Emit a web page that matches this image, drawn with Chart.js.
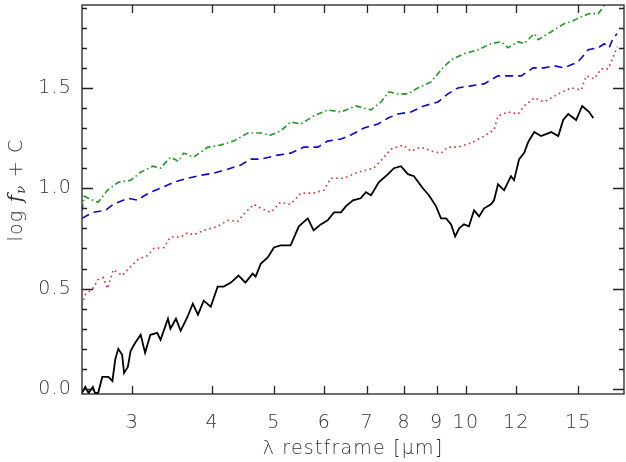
<!DOCTYPE html>
<html>
<head>
<meta charset="utf-8">
<script src="https://cdn.jsdelivr.net/npm/chart.js@4"></script>
<style>
  html, body { margin: 0; padding: 0; background: #fff; }
  #wrap { width: 626px; height: 462px; }
</style>
</head>
<body>
<div id="wrap"><canvas id="sed"></canvas></div>
<script>
// wavelength (rest frame, micron) / log f_nu + C
const blackX = [2.50, 2.53, 2.56, 2.60, 2.62, 2.65, 2.69, 2.72, 2.75, 2.79, 2.82, 2.85, 2.89, 2.91, 2.95, 2.98, 3.03, 3.09, 3.14, 3.20, 3.28, 3.32, 3.41, 3.44, 3.51, 3.57, 3.66, 3.73, 3.80, 3.88, 3.98, 4.08, 4.17, 4.28, 4.40, 4.51, 4.63, 4.68, 4.77, 4.89, 5.00, 5.12, 5.31, 5.47, 5.65, 5.77, 5.92, 6.07, 6.21, 6.37, 6.48, 6.65, 6.84, 6.97, 7.10, 7.30, 7.55, 7.71, 7.91, 8.11, 8.29, 8.56, 8.75, 8.98, 9.14, 9.31, 9.48, 9.62, 9.76, 9.93, 10.11, 10.30, 10.49, 10.68, 10.95, 11.07, 11.23, 11.48, 11.77, 11.90, 12.12, 12.34, 12.52, 12.80, 13.12, 13.61, 13.96, 14.21, 14.47, 14.89, 15.22, 15.61, 15.84];
const blackY = [-0.02, 0.01, -0.02, 0.01, -0.02, -0.02, 0.06, 0.06, 0.06, 0.04, 0.15, 0.20, 0.17, 0.08, 0.11, 0.19, 0.23, 0.27, 0.18, 0.27, 0.28, 0.245, 0.35, 0.30, 0.35, 0.29, 0.36, 0.425, 0.37, 0.44, 0.41, 0.51, 0.51, 0.53, 0.565, 0.53, 0.575, 0.56, 0.625, 0.655, 0.705, 0.715, 0.715, 0.81, 0.85, 0.79, 0.82, 0.84, 0.88, 0.88, 0.91, 0.94, 0.95, 0.98, 0.965, 1.03, 1.07, 1.10, 1.11, 1.07, 1.06, 1.00, 0.965, 0.91, 0.85, 0.85, 0.82, 0.76, 0.80, 0.82, 0.81, 0.89, 0.86, 0.90, 0.92, 0.94, 1.02, 0.99, 1.06, 1.04, 1.145, 1.175, 1.23, 1.28, 1.26, 1.28, 1.26, 1.34, 1.37, 1.34, 1.41, 1.38, 1.35];

const redX = [2.50, 2.53, 2.60, 2.65, 2.70, 2.74, 2.80, 2.89, 2.95, 3.06, 3.17, 3.24, 3.36, 3.44, 3.57, 3.66, 3.74, 3.88, 4.08, 4.23, 4.39, 4.48, 4.65, 4.77, 4.94, 5.12, 5.31, 5.51, 5.77, 5.99, 6.14, 6.44, 6.77, 7.17, 7.44, 7.63, 7.97, 8.20, 8.50, 8.82, 9.14, 9.37, 9.72, 10.19, 10.68, 11.07, 11.23, 11.65, 12.08, 12.34, 12.80, 13.27, 13.96, 14.63, 15.17, 15.44, 15.90, 16.30, 16.72, 17.03, 17.27];
const redY = [0.42, 0.47, 0.50, 0.545, 0.555, 0.50, 0.595, 0.565, 0.595, 0.645, 0.665, 0.70, 0.705, 0.757, 0.757, 0.778, 0.768, 0.79, 0.81, 0.84, 0.835, 0.87, 0.92, 0.90, 0.88, 0.93, 0.92, 0.976, 0.976, 0.99, 1.05, 1.05, 1.08, 1.10, 1.155, 1.195, 1.215, 1.185, 1.205, 1.185, 1.175, 1.205, 1.205, 1.225, 1.26, 1.29, 1.36, 1.38, 1.37, 1.41, 1.45, 1.43, 1.47, 1.50, 1.49, 1.56, 1.545, 1.595, 1.595, 1.655, 1.705];

const blueX = [2.50, 2.60, 2.72, 2.80, 2.85, 2.95, 3.06, 3.12, 3.20, 3.32, 3.48, 3.66, 3.84, 4.02, 4.23, 4.43, 4.60, 4.77, 5.07, 5.31, 5.57, 5.86, 6.07, 6.37, 6.60, 6.92, 7.28, 7.55, 7.82, 8.20, 8.59, 9.04, 9.37, 9.72, 10.19, 10.68, 11.23, 11.77, 12.21, 12.75, 13.27, 13.76, 14.26, 15.00, 15.55, 16.13, 16.48, 16.78, 17.03, 17.27];
const blueY = [0.85, 0.88, 0.89, 0.92, 0.93, 0.95, 0.94, 0.96, 0.98, 1.00, 1.03, 1.05, 1.065, 1.075, 1.095, 1.115, 1.145, 1.145, 1.165, 1.175, 1.205, 1.205, 1.235, 1.245, 1.265, 1.30, 1.32, 1.35, 1.37, 1.38, 1.41, 1.43, 1.47, 1.50, 1.51, 1.52, 1.56, 1.56, 1.56, 1.60, 1.60, 1.61, 1.60, 1.63, 1.69, 1.70, 1.72, 1.70, 1.75, 1.77];

const greenX = [2.50, 2.52, 2.60, 2.65, 2.74, 2.85, 2.98, 3.09, 3.23, 3.32, 3.44, 3.54, 3.61, 3.74, 3.94, 4.12, 4.32, 4.55, 4.77, 4.94, 5.12, 5.31, 5.51, 5.77, 6.07, 6.37, 6.72, 7.10, 7.36, 7.57, 7.82, 8.11, 8.41, 8.82, 9.14, 9.48, 9.93, 10.45, 10.95, 11.36, 11.65, 12.08, 12.34, 12.80, 12.98, 13.61, 14.26, 14.63, 15.06, 15.61, 16.13, 16.48, 16.70];
const greenY = [0.89, 0.96, 0.94, 0.93, 0.99, 1.03, 1.04, 1.08, 1.11, 1.10, 1.155, 1.135, 1.175, 1.155, 1.205, 1.215, 1.235, 1.275, 1.275, 1.265, 1.285, 1.33, 1.32, 1.36, 1.39, 1.38, 1.41, 1.39, 1.43, 1.48, 1.47, 1.47, 1.50, 1.53, 1.59, 1.64, 1.67, 1.69, 1.72, 1.73, 1.70, 1.73, 1.72, 1.77, 1.74, 1.78, 1.82, 1.83, 1.85, 1.87, 1.87, 1.91, 1.94];

const xTicks = [3, 4, 5, 6, 7, 8, 9, 10, 12, 15];
const yTicks = [0.0, 0.5, 1.0, 1.5];

const FONT = "'DejaVu Sans', sans-serif";
const INK = '#222';
const TXT = '#333';

function pts(xs, ys) {
  return xs.map((x, i) => ({ x: x, y: ys[i] }));
}

// wider letter spacing, like the plotting package's stroke font
const spacing = {
  id: 'spacing',
  beforeDraw(chart) { chart.ctx.letterSpacing = '1.2px'; }
};

// IDL-style box with inward ticks on all four sides, plus y title
const boxAxes = {
  id: 'boxAxes',
  afterDatasetsDraw(chart) {
    const { ctx, chartArea: a, scales: { x, y } } = chart;
    ctx.save();
    ctx.strokeStyle = INK;
    ctx.lineWidth = 1.3;
    ctx.strokeRect(a.left, a.top, a.right - a.left, a.bottom - a.top);
    ctx.beginPath();
    xTicks.forEach(v => {
      const px = Math.round(x.getPixelForValue(v)) + 0.5;
      ctx.moveTo(px, a.bottom); ctx.lineTo(px, a.bottom - 8);
      ctx.moveTo(px, a.top); ctx.lineTo(px, a.top + 8);
    });
    for (let i = 0; i <= 19; i++) {
      const v = i / 10;
      const py = Math.round(y.getPixelForValue(v)) + 0.5;
      const len = (i % 5 === 0) ? 11 : 5;
      ctx.moveTo(a.left, py); ctx.lineTo(a.left + len, py);
      ctx.moveTo(a.right, py); ctx.lineTo(a.right - len, py);
    }
    ctx.stroke();

    // y axis title: log f_nu + C
    ctx.fillStyle = TXT;
    ctx.translate(17, 190);
    ctx.rotate(-Math.PI / 2);
    ctx.textBaseline = 'middle';
    const parts = [
      { t: 'log ', f: `200 19px ${FONT}`, dy: 0 },
      { t: 'f', f: `italic 20px 'DejaVu Serif', serif`, dy: 0 },
      { t: 'ν', f: `italic 13px 'DejaVu Serif', serif`, dy: 5 },
      { t: ' + C', f: `200 19px ${FONT}`, dy: 0 }
    ];
    let w = 0;
    parts.forEach(p => { ctx.font = p.f; p.w = ctx.measureText(p.t).width; w += p.w; });
    let cx = -w / 2;
    parts.forEach(p => { ctx.font = p.f; ctx.fillText(p.t, cx, p.dy); cx += p.w; });
    ctx.restore();
  }
};

const series = [
  { label: 'black', xs: blackX, ys: blackY, color: '#000000', dash: [], width: 1.8 },
  { label: 'red', xs: redX, ys: redY, color: '#dc2a2a', dash: [1.6, 3.4], width: 1.6 },
  { label: 'blue', xs: blueX, ys: blueY, color: '#0a0ac8', dash: [8, 5], width: 1.6 },
  { label: 'green', xs: greenX, ys: greenY, color: '#1e9a1e', dash: [6, 3, 1.6, 3], width: 1.6 }
];

const labelFont = { family: FONT, size: 19, weight: '200' };

new Chart(document.getElementById('sed'), {
  type: 'line',
  data: {
    datasets: series.map(s => ({
      label: s.label,
      data: pts(s.xs, s.ys),
      borderColor: s.color,
      borderWidth: s.width,
      borderDash: s.dash,
      pointRadius: 0,
      fill: false,
      tension: 0
    }))
  },
  options: {
    responsive: true,
    maintainAspectRatio: false,
    animation: false,
    layout: { padding: { top: 5, right: 2, left: 0, bottom: 0 } },
    plugins: { legend: { display: false }, tooltip: { enabled: false } },
    scales: {
      x: {
        type: 'logarithmic',
        min: 2.5,
        max: 17.7,
        grid: { display: false, drawTicks: false },
        border: { display: false },
        afterBuildTicks: axis => { axis.ticks = xTicks.map(v => ({ value: v })); },
        afterFit: scale => {
          scale.height = 68;
          scale.paddingLeft = 0;
          scale.paddingRight = 0;
        },
        ticks: {
          autoSkip: false,
          maxRotation: 0,
          padding: 18,
          color: TXT,
          font: labelFont,
          callback: v => String(v)
        },
        title: {
          display: true,
          text: 'λ restframe [μm]',
          color: TXT,
          font: labelFont,
          padding: { top: 0, bottom: 2 }
        }
      },
      y: {
        min: -0.025,
        max: 1.913,
        grid: { display: false, drawTicks: false },
        border: { display: false },
        afterBuildTicks: axis => { axis.ticks = yTicks.map(v => ({ value: v })); },
        afterFit: scale => {
          scale.width = 82;
          scale.paddingTop = 0;
          scale.paddingBottom = 0;
        },
        ticks: {
          padding: 10,
          color: TXT,
          font: labelFont,
          callback: v => v.toFixed(1)
        }
      }
    }
  },
  plugins: [spacing, boxAxes]
});
</script>
</body>
</html>
